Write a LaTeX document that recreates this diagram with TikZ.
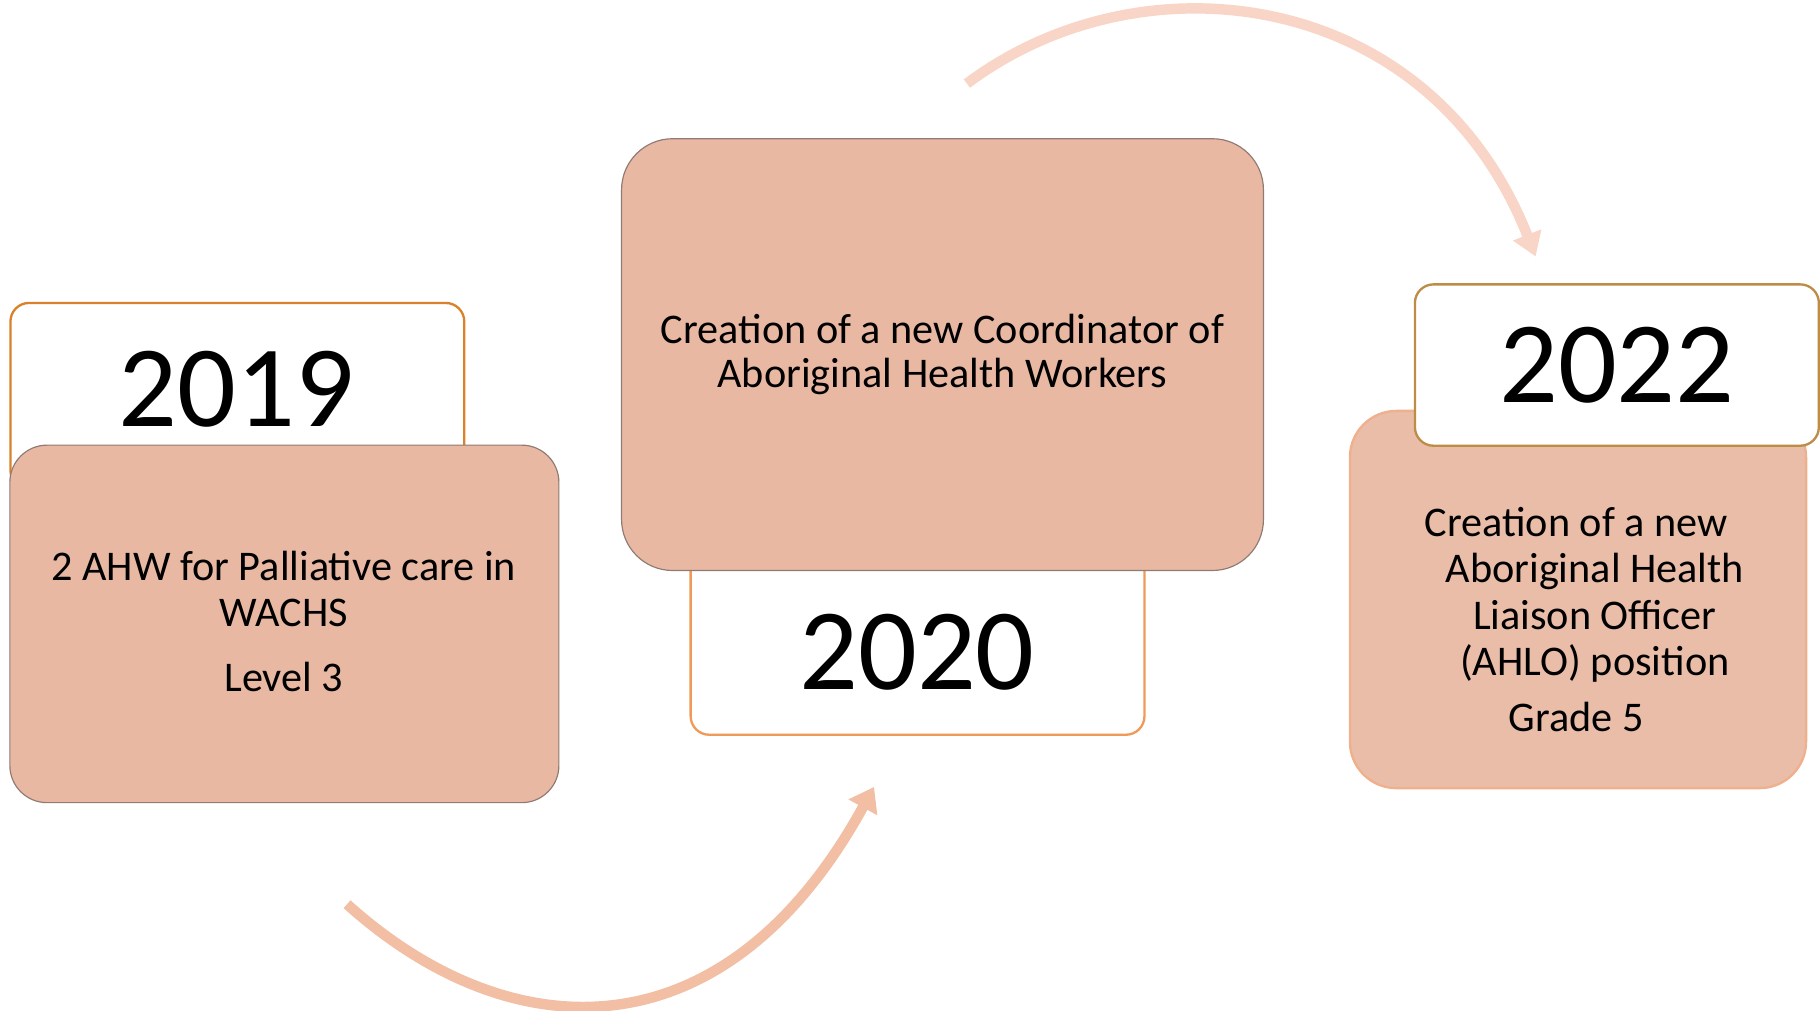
\documentclass[tikz,border=0pt]{standalone}
\usepackage{fontspec}
\setmainfont{Carlito}
\usetikzlibrary{arrows.meta}
\definecolor{boxfill}{HTML}{E8B8A3}
\definecolor{boxfilltwo}{HTML}{EABDA8}
\definecolor{boxedge}{HTML}{8F7B73}
\definecolor{edgetwo}{HTML}{EFB08E}
\definecolor{orangeA}{HTML}{D9822B}
\definecolor{orangeB}{HTML}{F09A5A}
\definecolor{orangeC}{HTML}{BD8D48}
\definecolor{arrowtop}{HTML}{F8D5C6}
\definecolor{arrowbot}{HTML}{F2BEA4}
\tikzset{
  yearbox/.style={draw, line width=2pt, fill=white, rounded corners=16pt, anchor=north west, inner sep=0pt},
  eventbox/.style={draw=boxedge, line width=1pt, fill=boxfill, rounded corners=32pt, anchor=north west, inner sep=0pt},
  bodytext/.style={font=\fontsize{36.4}{40}\selectfont, align=center, inner sep=0pt},
  yeartext/.style={font=\fontsize{100}{110}\selectfont, inner sep=0pt},
  flowtop/.style={line width=9pt, draw=arrowtop, -{Triangle[width=25pt,length=20pt]}},
  flowbot/.style={line width=9pt, draw=arrowbot, -{Triangle[width=27pt,length=20pt]}}
}
\begin{document}
\begin{tikzpicture}[x=1pt,y=-1pt]
\useasboundingbox (0,0) rectangle (1568,871);

% arrows
\coordinate (a1s) at (833,72);
\coordinate (a1e) at (1323,221);
\draw[flowtop] (a1s) .. controls (985,-42) and (1232,-10) .. (a1e);
\coordinate (a2s) at (299,779);
\coordinate (a2e) at (753,678);
\draw[flowbot] (a2s) .. controls (439,905) and (624,913) .. (a2e);

% 2019
\node[yearbox, draw=orangeA, minimum width=391pt, minimum height=160pt] (y19box) at (8,260) {};
\node[yeartext] (y19) at (203.5,335.5) {2019};
\node[eventbox, minimum width=473pt, minimum height=308pt] (e19box) at (8,383) {};
\node[bodytext, anchor=base] (e19) at (244.5,596) {2 AHW for Palliative care in\\WACHS\\[16pt]Level 3};

% 2020
\node[yearbox, draw=orangeB, minimum width=391pt, minimum height=160pt] (y20box) at (594,472) {};
\node[yeartext] (y20) at (790,562) {2020};
\node[eventbox, bodytext, font=\fontsize{36.4}{38}\selectfont, minimum width=553pt, minimum height=372pt, rounded corners=44pt] (e20box) at (535,119) {Creation of a new Coordinator of\\Aboriginal Health Workers};

% 2022
\node[eventbox, draw=edgetwo, line width=2pt, fill=boxfilltwo, minimum width=393pt, minimum height=325pt, rounded corners=40pt] (e22box) at (1162,353) {};
\node[bodytext, anchor=base] (e22) at (1358,630) {Creation of a new\\\hspace*{32pt}Aboriginal Health\\\hspace*{32pt}Liaison Officer\\\hspace*{32pt}(AHLO) position\\[8pt]Grade 5};
\node[yearbox, yeartext, draw=orangeC, minimum width=348pt, minimum height=139pt] (y22box) at (1218,244) {2022};
\end{tikzpicture}
\end{document}
